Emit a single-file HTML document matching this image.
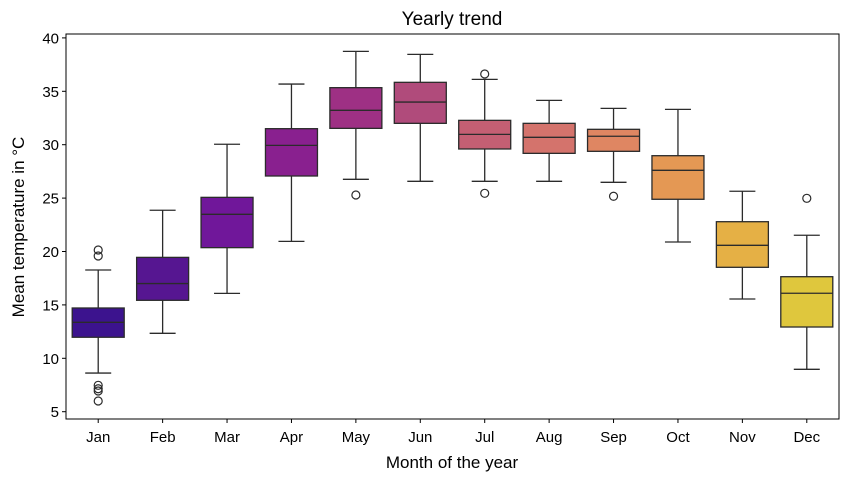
<!DOCTYPE html>
<html><head><meta charset="utf-8"><style>
body{margin:0;background:#fff;}
svg{display:block;font-family:"Liberation Sans","DejaVu Sans",sans-serif;}
</style></head><body>
<svg id="chart" width="850" height="481" viewBox="0 0 850 481">
<rect x="0" y="0" width="850" height="481" fill="#fff"/>
<text x="452" y="25" text-anchor="middle" font-size="19" fill="#000">Yearly trend</text>
<text x="452" y="468" text-anchor="middle" font-size="17" fill="#000">Month of the year</text>
<text transform="translate(24,227) rotate(-90)" text-anchor="middle" font-size="17" fill="#000">Mean temperature in °C</text>
<g id="marks"></g>
<g id="axes"></g>
</svg>
<script>
const months=["Jan","Feb","Mar","Apr","May","Jun","Jul","Aug","Sep","Oct","Nov","Dec"];
const whiskerLow=[8.62,12.34,16.08,20.95,26.76,26.57,26.57,26.57,26.48,20.89,15.55,8.97];
const q1=[11.97,15.43,20.36,27.07,31.53,32.0,29.6,29.19,29.38,24.89,18.52,12.93];
const medians=[13.37,17.0,23.48,29.94,33.22,33.99,30.97,30.69,30.79,27.6,20.58,16.09];
const q3=[14.71,19.45,25.07,31.5,35.34,35.84,32.28,32.0,31.44,28.97,22.79,17.64];
const whiskerHigh=[18.27,23.86,30.04,35.68,38.74,38.46,36.12,34.15,33.4,33.31,25.64,21.52];
const outliers=[[20.14,19.58,7.47,7.15,6.94,6.0],[],[],[],[25.29],[],[36.62,25.45],[],[25.17],[],[],[24.98]];
const colors=["#3c138e","#561691","#70179a","#89208f","#9e3084","#b04b7b","#c45f73","#d4736c","#df8662","#e49854","#e5b045","#dfc73d"];
const yTicks=[5,10,15,20,25,30,35,40];

const L=66,R=839,T=34,B=419;
const step=(R-L)/months.length;
const xc=i=>L+step*(i+0.5);
const y=v=>411.7-(v-5)*10.68;
const NS="http://www.w3.org/2000/svg";
function mk(tag,attrs,parent){const e=document.createElementNS(NS,tag);for(const k in attrs)e.setAttribute(k,attrs[k]);parent.appendChild(e);return e;}
const marks=document.getElementById('marks'),axes=document.getElementById('axes');
const bw=52,cw=26,st="#2b2b2b";
months.forEach((m,i)=>{
  const g=mk('g',{},marks);
  
  
  const x=xc(i);
  const w1=mk('line',{x1:x,x2:x,y1:y(whiskerHigh[i]),y2:y(q3[i]),stroke:st,'stroke-width':1.3},g);
  
  
  const w2=mk('line',{x1:x,x2:x,y1:y(q1[i]),y2:y(whiskerLow[i]),stroke:st,'stroke-width':1.3},g);
  
  
  const c1=mk('line',{x1:x-cw/2,x2:x+cw/2,y1:y(whiskerHigh[i]),y2:y(whiskerHigh[i]),stroke:st,'stroke-width':1.3},g);
  
  
  const c2=mk('line',{x1:x-cw/2,x2:x+cw/2,y1:y(whiskerLow[i]),y2:y(whiskerLow[i]),stroke:st,'stroke-width':1.3},g);
  
  
  const r=mk('rect',{x:x-bw/2,y:y(q3[i]),width:bw,height:y(q1[i])-y(q3[i]),fill:colors[i],stroke:st,'stroke-width':1.3},g);
  
  
  const md=mk('line',{x1:x-bw/2,x2:x+bw/2,y1:y(medians[i]),y2:y(medians[i]),stroke:st,'stroke-width':1.3},g);
  
  
  outliers[i].forEach(v=>{
    const o=mk('circle',{cx:x,cy:y(v),r:4,fill:'none',stroke:st,'stroke-width':1.2},g);
    
    
  });
  const tk=mk('line',{x1:x,x2:x,y1:B,y2:B+4,stroke:'#000','stroke-width':1},axes);
  
  
  const tl=mk('text',{x:x,y:B+23,'text-anchor':'middle','font-size':15,fill:'#000'},axes);
  tl.textContent=m;
  
  
});
yTicks.forEach(v=>{
  const tk=mk('line',{x1:L-4,x2:L,y1:y(v),y2:y(v),stroke:'#000','stroke-width':1},axes);
  
  
  const tl=mk('text',{x:L-7,y:y(v)+5.5,'text-anchor':'end','font-size':15,fill:'#000'},axes);
  tl.textContent=v;
  
  
});
const frame=mk('rect',{x:L,y:T,width:R-L,height:B-T,fill:'none',stroke:'#000','stroke-width':1},axes);


</script>
</body></html>
